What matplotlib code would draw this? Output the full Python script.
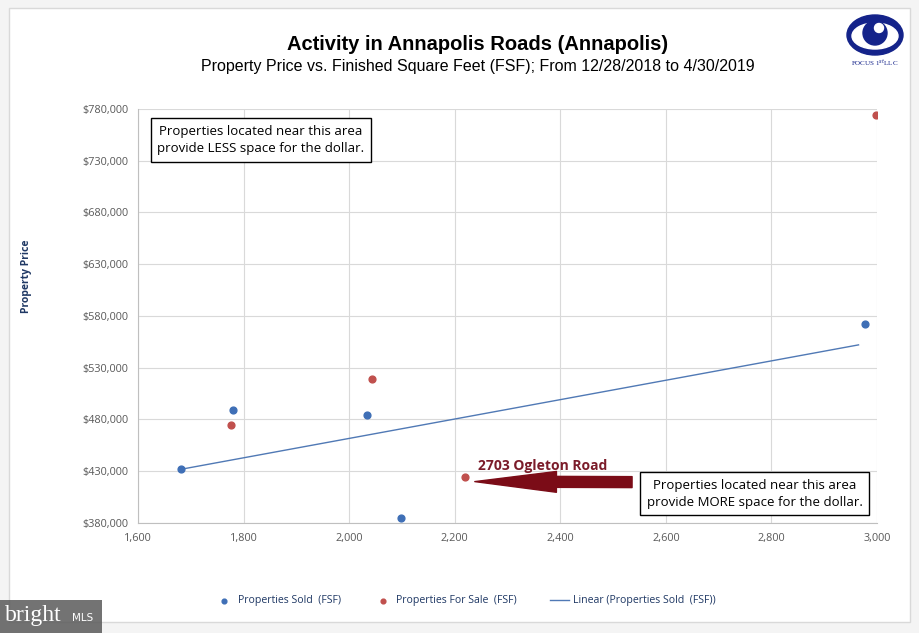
import numpy as np
import matplotlib.pyplot as plt
from matplotlib.patches import Rectangle, Ellipse, Circle

sold_fsf = [1681, 1780, 2034, 2098, 2977]
sold_price = [432000, 489000, 484000, 385000, 572000]
sale_fsf = [1776, 2043, 2219, 2998]
sale_price = [475000, 519000, 424500, 774000]
xticks = [1600, 1800, 2000, 2200, 2400, 2600, 2800, 3000]
yticks = [380000, 430000, 480000, 530000, 580000, 630000, 680000, 730000, 780000]

W, H = 920, 633
fig = plt.figure(figsize=(W/100, H/100), dpi=100)
fig.patch.set_facecolor('#f4f4f4')

def fx(px): return px / W
def fy(py): return 1 - py / H

# white panel
fig.patches.append(Rectangle((fx(9), fy(622)), fx(910) - fx(9), fy(8) - fy(622),
                             transform=fig.transFigure, facecolor='white',
                             edgecolor='#d9d9d9', lw=1, zorder=-5))

ax = fig.add_axes([fx(138), fy(523), fx(877) - fx(138), fy(109) - fy(523)])
ax.set_xlim(1600, 3000)
ax.set_ylim(380000, 780000)
ax.set_xticks(xticks)
ax.set_yticks(yticks)
ax.set_xticklabels([f"{v:,}" for v in xticks], fontsize=7.8, color='#595959', family='Open Sans')
ax.set_yticklabels([f"${v:,}" for v in yticks], fontsize=7.8, color='#595959', family='Open Sans')
ax.grid(True, color='#d9d9d9', lw=0.8)
ax.set_axisbelow(True)
for s in ['top', 'right']:
    ax.spines[s].set_visible(False)
for s in ['left', 'bottom']:
    ax.spines[s].set_color('#bfbfbf')
ax.tick_params(length=0, pad=7)
ax.set_facecolor('white')

blue = '#3F6FB6'
red = '#C0504D'
ax.scatter(sold_fsf, sold_price, s=24, color=blue, zorder=3, label='Properties Sold  (FSF)')
ax.scatter(sale_fsf, sale_price, s=24, color=red, zorder=3, label='Properties For Sale  (FSF)')
coef = np.polyfit(sold_fsf, sold_price, 1)
xl = np.array([min(sold_fsf), max(sold_fsf) - 12])
ax.plot(xl, np.polyval(coef, xl), color='#5079B5', lw=1, zorder=2,
        label='Linear (Properties Sold  (FSF))')

fig.text(fx(27), fy(276), 'Property Price', rotation=90, fontsize=7.5, fontweight='bold',
         color='#1F3864', family='Open Sans', ha='center', va='center')

# annotation boxes
ax.text(1833, 750000, 'Properties located near this area\nprovide LESS space for the dollar.',
        fontsize=9.5, family='Open Sans', ha='center', va='center', linespacing=1.4,
        bbox=dict(boxstyle='square,pad=0.5', fc='white', ec='black', lw=1))
ax.text(2768, 408500, 'Properties located near this area\nprovide MORE space for the dollar.',
        fontsize=9.5, family='Open Sans', ha='center', va='center', linespacing=1.4,
        bbox=dict(boxstyle='square,pad=0.5', fc='white', ec='black', lw=1))

# arrow
ax.annotate('', xy=(2238, 420000), xytext=(2536, 419500),
            arrowprops=dict(arrowstyle='simple,head_length=4.9,head_width=1.25,tail_width=0.66',
                            fc='#7B0C17', ec='#7B0C17', mutation_scale=12,
                            shrinkA=0, shrinkB=0))
ax.text(2244, 435000, '2703 Ogleton Road', fontsize=10, fontweight='bold',
        color='#7B1C2A', family='Open Sans', ha='left', va='center')

# titles
fig.text(fx(478), fy(44), 'Activity in Annapolis Roads (Annapolis)', fontsize=14.5,
         fontweight='bold', family='Liberation Sans', ha='center', va='center')
fig.text(fx(478), fy(67), 'Property Price vs. Finished Square Feet (FSF); From 12/28/2018 to 4/30/2019',
         fontsize=11.5, family='Liberation Sans', ha='center', va='center')

# legend
leg = fig.legend(loc='center', bbox_to_anchor=(fx(465), fy(601)), ncol=3, frameon=False,
                 prop={'family': 'Open Sans', 'size': 7.6},
                 handlelength=1.8, handletextpad=0.4, columnspacing=3.1, markerscale=0.7)
for t in leg.get_texts():
    t.set_color('#1F3864')

# logo
lax = fig.add_axes([fx(846), fy(70), fx(906) - fx(846), fy(12) - fy(70)])
lax.set_xlim(0, 60)
lax.set_ylim(58, 0)
lax.axis('off')
navy = '#14238A'
lax.add_patch(Ellipse((29, 23), 56, 40, color=navy))
lax.add_patch(Ellipse((29, 24), 46, 26, color='white'))
lax.add_patch(Circle((29, 21), 12, color=navy))
lax.add_patch(Circle((33, 16), 4.5, color='white'))
lax.text(29, 51, 'FOCUS 1$^{st}$LLC', fontsize=5, family='Liberation Serif', color=navy,
         ha='center', va='center')

# bright MLS watermark
fig.patches.append(Rectangle((0, 0), fx(102), fy(600), transform=fig.transFigure,
                             facecolor='#5a5a5a', alpha=0.85, zorder=5))
fig.text(fx(5), fy(615), 'bright', fontsize=17, family='Liberation Serif', color='white',
         ha='left', va='center', zorder=6)
fig.text(fx(72), fy(618), 'MLS', fontsize=7.5, family='DejaVu Sans', color='white',
         ha='left', va='center', zorder=6)

fig.savefig('out.png', dpi=100)
